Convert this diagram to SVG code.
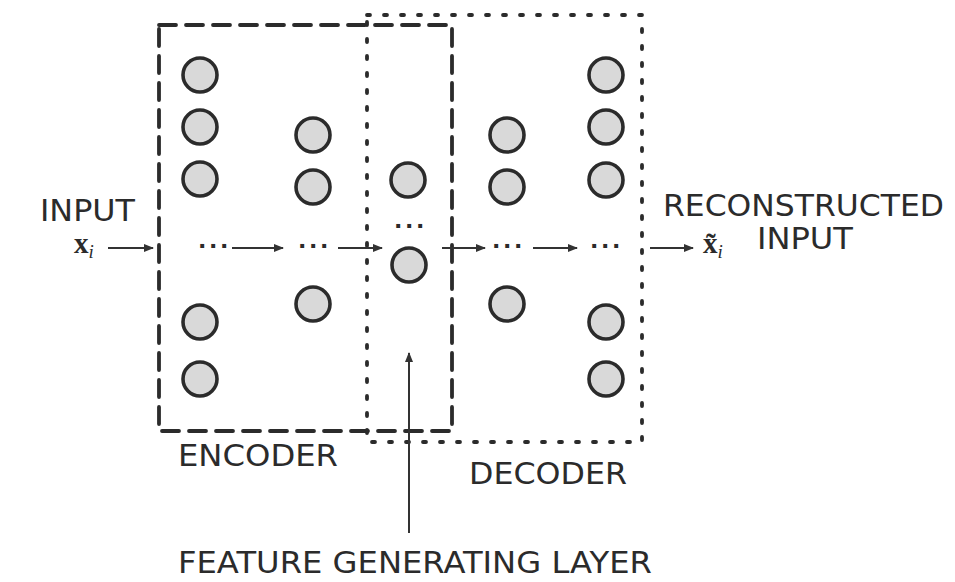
<svg xmlns="http://www.w3.org/2000/svg" width="955" height="582" viewBox="0 0 955 582">
<style>
.n{fill:#d9d9d9;stroke:#2b2b2b;stroke-width:3.6}
.lbl{font-family:"DejaVu Sans","Liberation Sans",sans-serif;font-size:30px;fill:#2b2b2b}
.dots{font-family:"DejaVu Sans",sans-serif;font-size:22px;font-weight:bold;fill:#2b2b2b}
.math{font-family:"Liberation Serif","DejaVu Serif",serif;fill:#2b2b2b}
.ar{stroke:#333;stroke-width:2;fill:none;marker-end:url(#ah)}
</style>
<defs>
<marker id="ah" markerWidth="10" markerHeight="8" refX="9" refY="4" orient="auto" markerUnits="userSpaceOnUse">
<path d="M0,0 L10,4 L0,8 z" fill="#333"/>
</marker>
</defs>
<rect width="955" height="582" fill="#fff"/>
<g id="encoder-box">
<rect x="159" y="25" width="293" height="406" fill="none" stroke="#2b2b2b" stroke-width="3.8" stroke-dasharray="17 10" stroke-linecap="round"/>
</g>
<g id="decoder-box">
<rect x="367" y="15" width="275" height="427" fill="none" stroke="#2b2b2b" stroke-width="3.8" stroke-dasharray="3 14" stroke-linecap="round"/>
</g>
<g id="layer1">
<circle class="n" cx="200" cy="75" r="17"/>
<circle class="n" cx="200" cy="127" r="17"/>
<circle class="n" cx="200" cy="179" r="17"/>
<text class="dots" x="198 209 220" y="253">···</text>
<circle class="n" cx="200" cy="322" r="17"/>
<circle class="n" cx="200" cy="379" r="17"/>
</g>
<g id="layer2">
<circle class="n" cx="313" cy="135" r="17"/>
<circle class="n" cx="313" cy="187" r="17"/>
<text class="dots" x="298 309 320" y="253">···</text>
<circle class="n" cx="313" cy="304" r="17"/>
</g>
<g id="layer3">
<circle class="n" cx="408" cy="180" r="17"/>
<text class="dots" x="394 405 416" y="233">···</text>
<circle class="n" cx="409" cy="265" r="17"/>
</g>
<g id="layer4">
<circle class="n" cx="507" cy="135" r="17"/>
<circle class="n" cx="507" cy="187" r="17"/>
<text class="dots" x="492 503 514" y="253">···</text>
<circle class="n" cx="507" cy="304" r="17"/>
</g>
<g id="layer5">
<circle class="n" cx="606" cy="75" r="17"/>
<circle class="n" cx="606" cy="127" r="17"/>
<circle class="n" cx="606" cy="180" r="17"/>
<text class="dots" x="590 601 612" y="253">···</text>
<circle class="n" cx="606" cy="322" r="17"/>
<circle class="n" cx="606" cy="379" r="17"/>
</g>
<g id="input-label">
<text class="lbl" x="40" y="221" textLength="95" lengthAdjust="spacingAndGlyphs">INPUT</text>
<text class="math" x="74" y="253" font-size="29" font-weight="bold">x<tspan font-size="19" font-style="italic" font-weight="normal" dy="5">i</tspan></text>
</g>
<g id="output-label">
<text class="lbl" x="663" y="216" textLength="281" lengthAdjust="spacingAndGlyphs">RECONSTRUCTED</text>
<text class="lbl" x="757" y="249" textLength="96" lengthAdjust="spacingAndGlyphs">INPUT</text>
<text class="math" x="703" y="253" font-size="29" font-weight="bold">x&#x303;<tspan font-size="19" font-style="italic" font-weight="normal" dy="5">i</tspan></text>
</g>
<g id="encoder-label">
<text class="lbl" x="178" y="466" textLength="160" lengthAdjust="spacingAndGlyphs">ENCODER</text>
</g>
<g id="decoder-label">
<text class="lbl" x="469" y="484" textLength="158" lengthAdjust="spacingAndGlyphs">DECODER</text>
</g>
<g id="feature-label">
<text class="lbl" x="178" y="573" textLength="474" lengthAdjust="spacingAndGlyphs">FEATURE GENERATING LAYER</text>
</g>
<g id="connectors">
<line class="ar" x1="108" y1="248" x2="153" y2="248"/>
<line class="ar" x1="232" y1="248" x2="283" y2="248"/>
<line class="ar" x1="338" y1="248" x2="382" y2="248"/>
<line class="ar" x1="442" y1="248" x2="485" y2="248"/>
<line class="ar" x1="533" y1="248" x2="577" y2="248"/>
<line class="ar" x1="650" y1="248" x2="693" y2="248"/>
<line class="ar" x1="409" y1="533" x2="409" y2="353"/>
</g>
</svg>
